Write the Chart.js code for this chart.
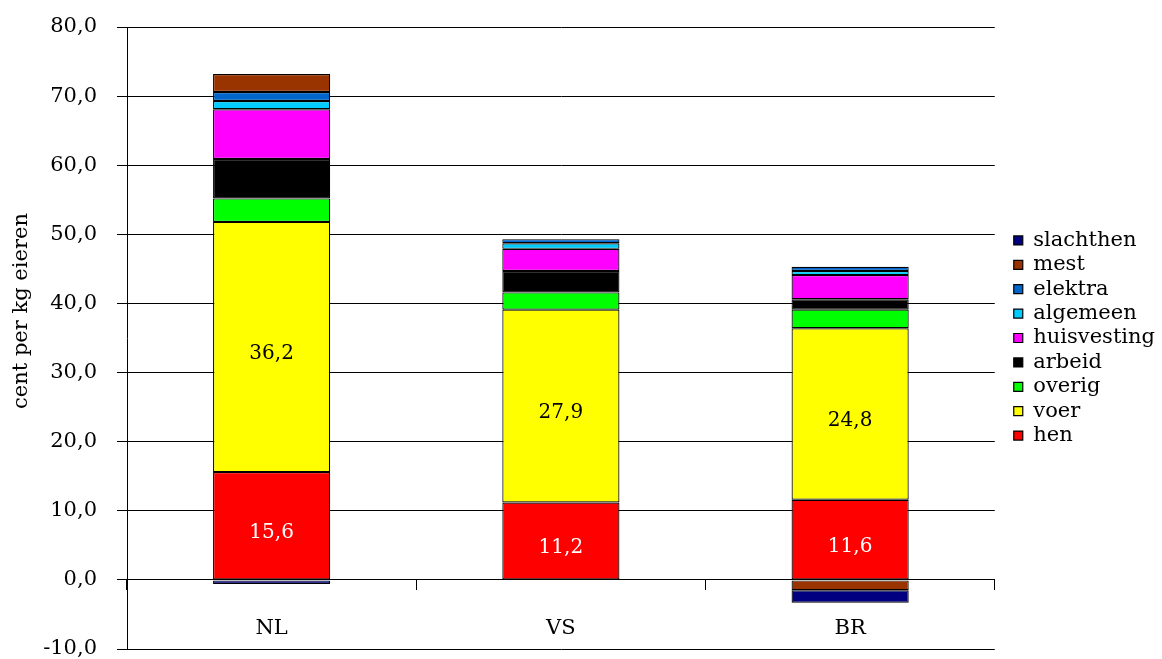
<!DOCTYPE html>
<html>
<head>
<meta charset="utf-8">
<script src="https://cdn.jsdelivr.net/npm/chart.js@4/dist/chart.umd.min.js"></script>
<style>
html,body{margin:0;padding:0;background:#fff;}
#wrap{width:1162px;height:659px;}
</style>
</head>
<body>
<div id="wrap"><canvas id="c" width="1162" height="659"></canvas></div>
<script>
const categories = ['NL', 'VS', 'BR'];
const hen = [15.6, 11.2, 11.6];
const voer = [36.2, 27.9, 24.8];
const overig = [3.4, 2.5, 2.7];
const arbeid = [5.7, 3.1, 1.5];
const huisvesting = [7.2, 3.2, 3.5];
const algemeen = [1.2, 0.8, 0.6];
const elektra = [1.3, 0.6, 0.6];
const mest = [2.6, 0, -1.5];
const slachthen = [-0.6, 0, -1.8];
const yTicks = [-10, 0, 10, 20, 30, 40, 50, 60, 70, 80];
const yTitle = 'cent per kg eieren';

const FONT = 'DejaVu Serif';
const fmt = v => Number(v).toFixed(1).replace('.', ',');

const series = [
  {label: 'hen', data: hen, color: '#FF0000', labelColor: '#FFFFFF'},
  {label: 'voer', data: voer, color: '#FFFF00', labelColor: '#000000'},
  {label: 'overig', data: overig, color: '#00FF00'},
  {label: 'arbeid', data: arbeid, color: '#000000'},
  {label: 'huisvesting', data: huisvesting, color: '#FF00FF'},
  {label: 'algemeen', data: algemeen, color: '#00CCFF'},
  {label: 'elektra', data: elektra, color: '#0066CC'},
  {label: 'mest', data: mest, color: '#993300'},
  {label: 'slachthen', data: slachthen, color: '#000080'}
];

const valueLabels = {
  id: 'valueLabels',
  afterDatasetsDraw(chart) {
    const ctx = chart.ctx;
    ctx.save();
    ctx.font = '20px "' + FONT + '"';
    ctx.textAlign = 'center';
    ctx.textBaseline = 'middle';
    chart.data.datasets.forEach((ds, i) => {
      if (!ds.labelColor) return;
      const meta = chart.getDatasetMeta(i);
      meta.data.forEach((el, j) => {
        const v = ds.data[j];
        const cy = (el.y + el.base) / 2 + 7;
        ctx.fillStyle = ds.labelColor;
        ctx.fillText(fmt(v), el.x, cy);
      });
    });
    ctx.restore();
  }
};

const axisTitle = {
  id: 'axisTitle',
  afterDraw(chart) {
    const ctx = chart.ctx;
    ctx.save();
    ctx.translate(22, 311);
    ctx.rotate(-Math.PI / 2);
    ctx.font = '21px "' + FONT + '"';
    ctx.fillStyle = '#000';
    ctx.textAlign = 'center';
    ctx.textBaseline = 'middle';
    ctx.fillText(yTitle, 0, 0);
    ctx.restore();
  }
};

function zeroPad(scale) {
  scale.paddingTop = 0; scale.paddingBottom = 0;
  scale.paddingLeft = 0; scale.paddingRight = 0;
}

new Chart(document.getElementById('c'), {
  type: 'bar',
  data: {
    labels: categories,
    datasets: series.map(s => ({
      label: s.label,
      data: s.data,
      backgroundColor: s.color,
      borderColor: '#000000',
      borderWidth: 1.2,
      borderSkipped: false,
      labelColor: s.labelColor,
      categoryPercentage: 1,
      barPercentage: 0.405
    }))
  },
  options: {
    responsive: false,
    animation: false,
    layout: {padding: {left: 7, right: -3, top: 27, bottom: 10}},
    plugins: {
      tooltip: {enabled: false},
      legend: {
        position: 'right',
        reverse: true,
        labels: {
          boxWidth: 9,
          boxHeight: 9,
          padding: 3.4,
          color: '#000',
          font: {family: FONT, size: 21}
        }
      }
    },
    scales: {
      x: {
        stacked: true,
        position: {y: 0},
        grid: {display: true, drawOnChartArea: false, drawTicks: true, tickLength: 10, color: '#000', offset: true},
        border: {display: true, color: '#000', width: 1},
        ticks: {color: '#000', font: {family: FONT, size: 21}, padding: 26},
        afterFit: zeroPad
      },
      y: {
        stacked: true,
        min: -10,
        max: 80,
        afterBuildTicks(scale) { scale.ticks = yTicks.map(v => ({value: v})); },
        grid: {color: '#000', lineWidth: 1, tickLength: 10},
        border: {display: true, color: '#000', width: 1},
        ticks: {color: '#000', font: {family: FONT, size: 21}, padding: 20, callback: v => fmt(v)},
        title: {display: false},
        afterFit(scale) { scale.width = 120; zeroPad(scale); }
      },
      y2: {
        type: 'linear',
        position: 'right',
        display: true,
        grid: {display: false, drawTicks: false},
        border: {display: false},
        ticks: {display: false},
        afterFit(scale) { scale.width = 15.6; zeroPad(scale); }
      }
    }
  },
  plugins: [valueLabels, axisTitle]
});
</script>
</body>
</html>
